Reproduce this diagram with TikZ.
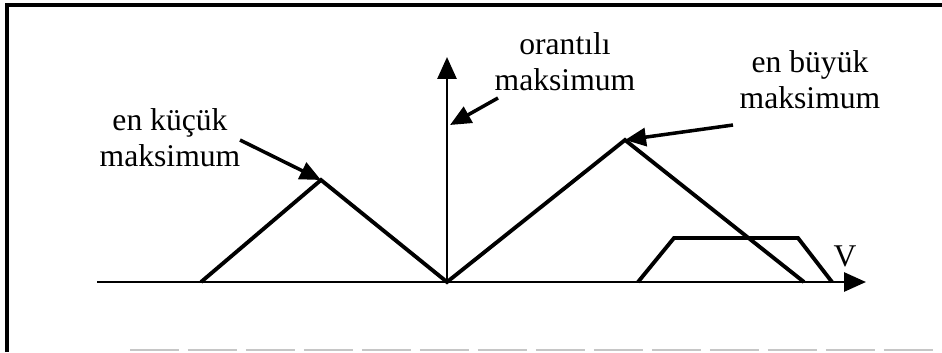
\documentclass[tikz,border=0pt]{standalone}
\usepackage{fontspec}
\setmainfont{Liberation Serif}
\usetikzlibrary{arrows.meta}
\tikzset{
  lbl/.style={align=center,font=\fontsize{18}{20.5}\selectfont,inner sep=0pt},
  axis/.style={-{Triangle[length=4.4mm,width=3.8mm]},line width=1.6pt},
  memb/.style={line width=2.2pt,line join=miter},
  ptr/.style={-{Triangle[length=4.2mm,width=3.6mm]},line width=2pt}
}

\begin{document}
\begin{tikzpicture}[x=0.02cm,y=-0.02cm]
  \useasboundingbox (0,0) rectangle (942,352);
  % frame
  \draw[line width=2pt] (7,352) -- (7,5) -- (942,5);
  \draw[gray!45,line width=1pt,dash pattern=on 28pt off 5pt] (130,350) -- (942,350);

  % axes
  \coordinate (o) at (447,282);
  \coordinate (vstart) at (97,282);
  \coordinate (vend) at (866,282);
  \coordinate (ytop) at (447,57);
  \draw[axis] (vstart) -- (vend);
  \draw[axis] (o) -- (ytop);
  \node[lbl] (vlbl) at (845,256) {V};

  % membership shapes
  \coordinate (small_l) at (201,282);
  \coordinate (small_top) at (321,180);
  \coordinate (big_top) at (625,140);
  \coordinate (big_r) at (804,282);
  \draw[memb] (small_l) -- (small_top) -- (o) -- (big_top) -- (big_r);
  \coordinate (trap_l) at (638,282);
  \coordinate (trap_tl) at (674,238);
  \coordinate (trap_tr) at (798,238);
  \coordinate (trap_r) at (832,282);
  \draw[memb] (trap_l) -- (trap_tl) -- (trap_tr) -- (trap_r);

  % labels
  \node[lbl] (min_lbl) at (170,138) {en küçük\\maksimum};
  \node[lbl] (prop_lbl) at (565,62) {orantılı\\maksimum};
  \node[lbl] (max_lbl) at (810,80) {en büyük\\maksimum};

  \coordinate (min_src) at (240,140);
  \coordinate (prop_src) at (498,98);
  \coordinate (prop_dst) at (450,125);
  \coordinate (max_src) at (733,125);
  \draw[ptr] (min_src) -- (small_top);
  \draw[ptr] (prop_src) -- (prop_dst);
  \draw[ptr] (max_src) -- (big_top);
\end{tikzpicture}
\end{document}
